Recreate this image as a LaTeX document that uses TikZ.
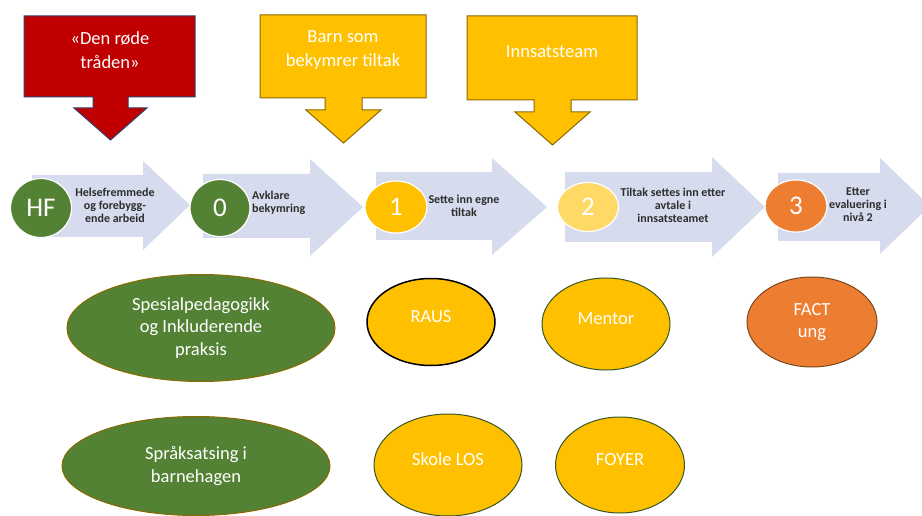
\documentclass[tikz,border=0pt]{standalone}
\usepackage{fontspec}
\setmainfont{Carlito}
\usepackage{xcolor}
\usepackage{tikz}
\usetikzlibrary{shapes.geometric,positioning}
\definecolor{hfgreen}{RGB}{84,130,53}
\definecolor{gold}{RGB}{255,192,0}
\definecolor{lightgold}{RGB}{255,217,102}
\definecolor{tangerine}{RGB}{237,125,49}
\definecolor{deepred}{RGB}{192,0,0}
\definecolor{navyline}{RGB}{47,63,110}
\definecolor{goldline}{RGB}{140,105,0}
\definecolor{flowblue}{RGB}{214,220,238}
\definecolor{leafline}{RGB}{56,87,35}
\definecolor{brownline}{RGB}{120,72,30}
\definecolor{labelgrey}{RGB}{45,45,45}
\tikzset{FLOW style/.style={x=1pt,y=-1pt,
	stage/.style={ellipse,draw=white,line width=1.2pt,text=white,inner sep=0pt,
		font=\fontsize{27}{27}\selectfont},
	stagetext/.style={text=labelgrey,inner sep=0pt,align=center,
		font=\fontsize{12}{13}\selectfont\bfseries},
	offer/.style={ellipse,line width=1pt,text=white,inner sep=0pt,align=center,
		font=\fontsize{18.5}{22.5}\selectfont},
	calltext/.style={text=white,inner sep=0pt,align=center,
		font=\fontsize{18.5}{24}\selectfont}}}

\begin{document}
\begin{tikzpicture}[FLOW style]
	\useasboundingbox (0,0) rectangle (922,516);
	\clip (0,0) rectangle (922,516);
	
	% callout boxes
	\filldraw[fill=deepred,draw=navyline,line width=1pt]
	(24,16) -- (195,16) -- (195,97) -- (128,97) -- (128,108) -- (147,108)
	-- (110.5,140) -- (74,108) -- (93,108) -- (93,97) -- (24,97) -- cycle;
	\filldraw[fill=gold,draw=goldline,line width=1pt]
	(260,15) -- (426,15) -- (426,98) -- (362,98) -- (362,110) -- (381,110)
	-- (343.5,143) -- (306,110) -- (325,110) -- (325,98) -- (260,98) -- cycle;
	\filldraw[fill=gold,draw=goldline,line width=1pt]
	(467,16) -- (637,16) -- (637,100) -- (571,100) -- (571,112) -- (590,112)
	-- (552.5,145) -- (515,112) -- (534,112) -- (534,100) -- (467,100) -- cycle;
	
	\node[calltext] (red) at (110,50) {«Den røde\\tråden»};
	\node[calltext] (worry) at (343,50) {Barn som\\bekymrer tiltak};
	\node[calltext] (team) at (552,52) {Innsatsteam};
	
	% block arrows
	\fill[flowblue] (32,175) -- (143,175) -- (143,161) -- (190,205)
	-- (143,250) -- (143,237) -- (32,237) -- cycle;
	\fill[flowblue] (203,174) -- (310,174) -- (310,159) -- (363,207)
	-- (310,256) -- (310,238) -- (203,238) -- cycle;
	\fill[flowblue] (376,172) -- (492,172) -- (492,158) -- (547,207)
	-- (492,255) -- (492,240) -- (376,240) -- cycle;
	\fill[flowblue] (565,172) -- (712,172) -- (712,157) -- (765,207)
	-- (712,257) -- (712,242) -- (565,242) -- cycle;
	\fill[flowblue] (778,173) -- (880,173) -- (880,158) -- (930,206)
	-- (880,254) -- (880,241) -- (778,241) -- cycle;
	
	\node[stage,fill=hfgreen,minimum width=61,minimum height=59] (hf) at (41,208) {HF};
	\node[stage,fill=hfgreen,minimum width=60,minimum height=57] (s0) at (220,208) {0};
	\node[stage,fill=gold,minimum width=62,minimum height=52] (s1) at (396,207) {1};
	\node[stage,fill=lightgold,minimum width=61,minimum height=49] (s2) at (588,207) {2};
	\node[stage,fill=tangerine,minimum width=62,minimum height=52] (s3) at (796,206) {3};
	
	\node[stagetext] (hftext) at (115,205) {Helsefremmede\\og forebygg-\\ende arbeid};
	\node[stagetext,anchor=west,align=left] (s0text) at (252,203) {Avklare\\bekymring};
	\node[stagetext] (s1text) at (464,206) {Sette inn egne\\tiltak};
	\node[stagetext] (s2text) at (673,205) {Tiltak settes inn etter\\avtale i\\innsatsteamet};
	\node[stagetext] (s3text) at (858,205) {Etter\\evaluering i\\nivå 2};
	
	% tiltak
	\node[offer,fill=hfgreen,draw=goldline,minimum width=268,minimum height=107]
	(spes) at (201,328) {Spesialpedagogikk\\og Inkluderende\\praksis};
	\node[offer,fill=hfgreen,draw=goldline,minimum width=268,minimum height=99]
	(sprak) at (196,466) {Språksatsing i\\barnehagen};
	\node[offer,fill=gold,draw=black,line width=1.5pt,minimum width=128,minimum height=87,
	text depth=12pt] (raus) at (431,322) {RAUS};
	\node[offer,fill=gold,draw=leafline,minimum width=128,minimum height=92,
	text depth=10pt] (mentor) at (606,324) {Mentor};
	\node[offer,fill=tangerine,draw=brownline,minimum width=130,minimum height=90]
	(fact) at (812,322) {FACT\\ung};
	\node[offer,fill=gold,draw=leafline,minimum width=148,minimum height=102,
	text depth=12pt] (los) at (448,465) {Skole LOS};
	\node[offer,fill=gold,draw=leafline,minimum width=129,minimum height=96,
	text depth=12pt] (foyer) at (620,465) {FOYER};
\end{tikzpicture}
\end{document}
